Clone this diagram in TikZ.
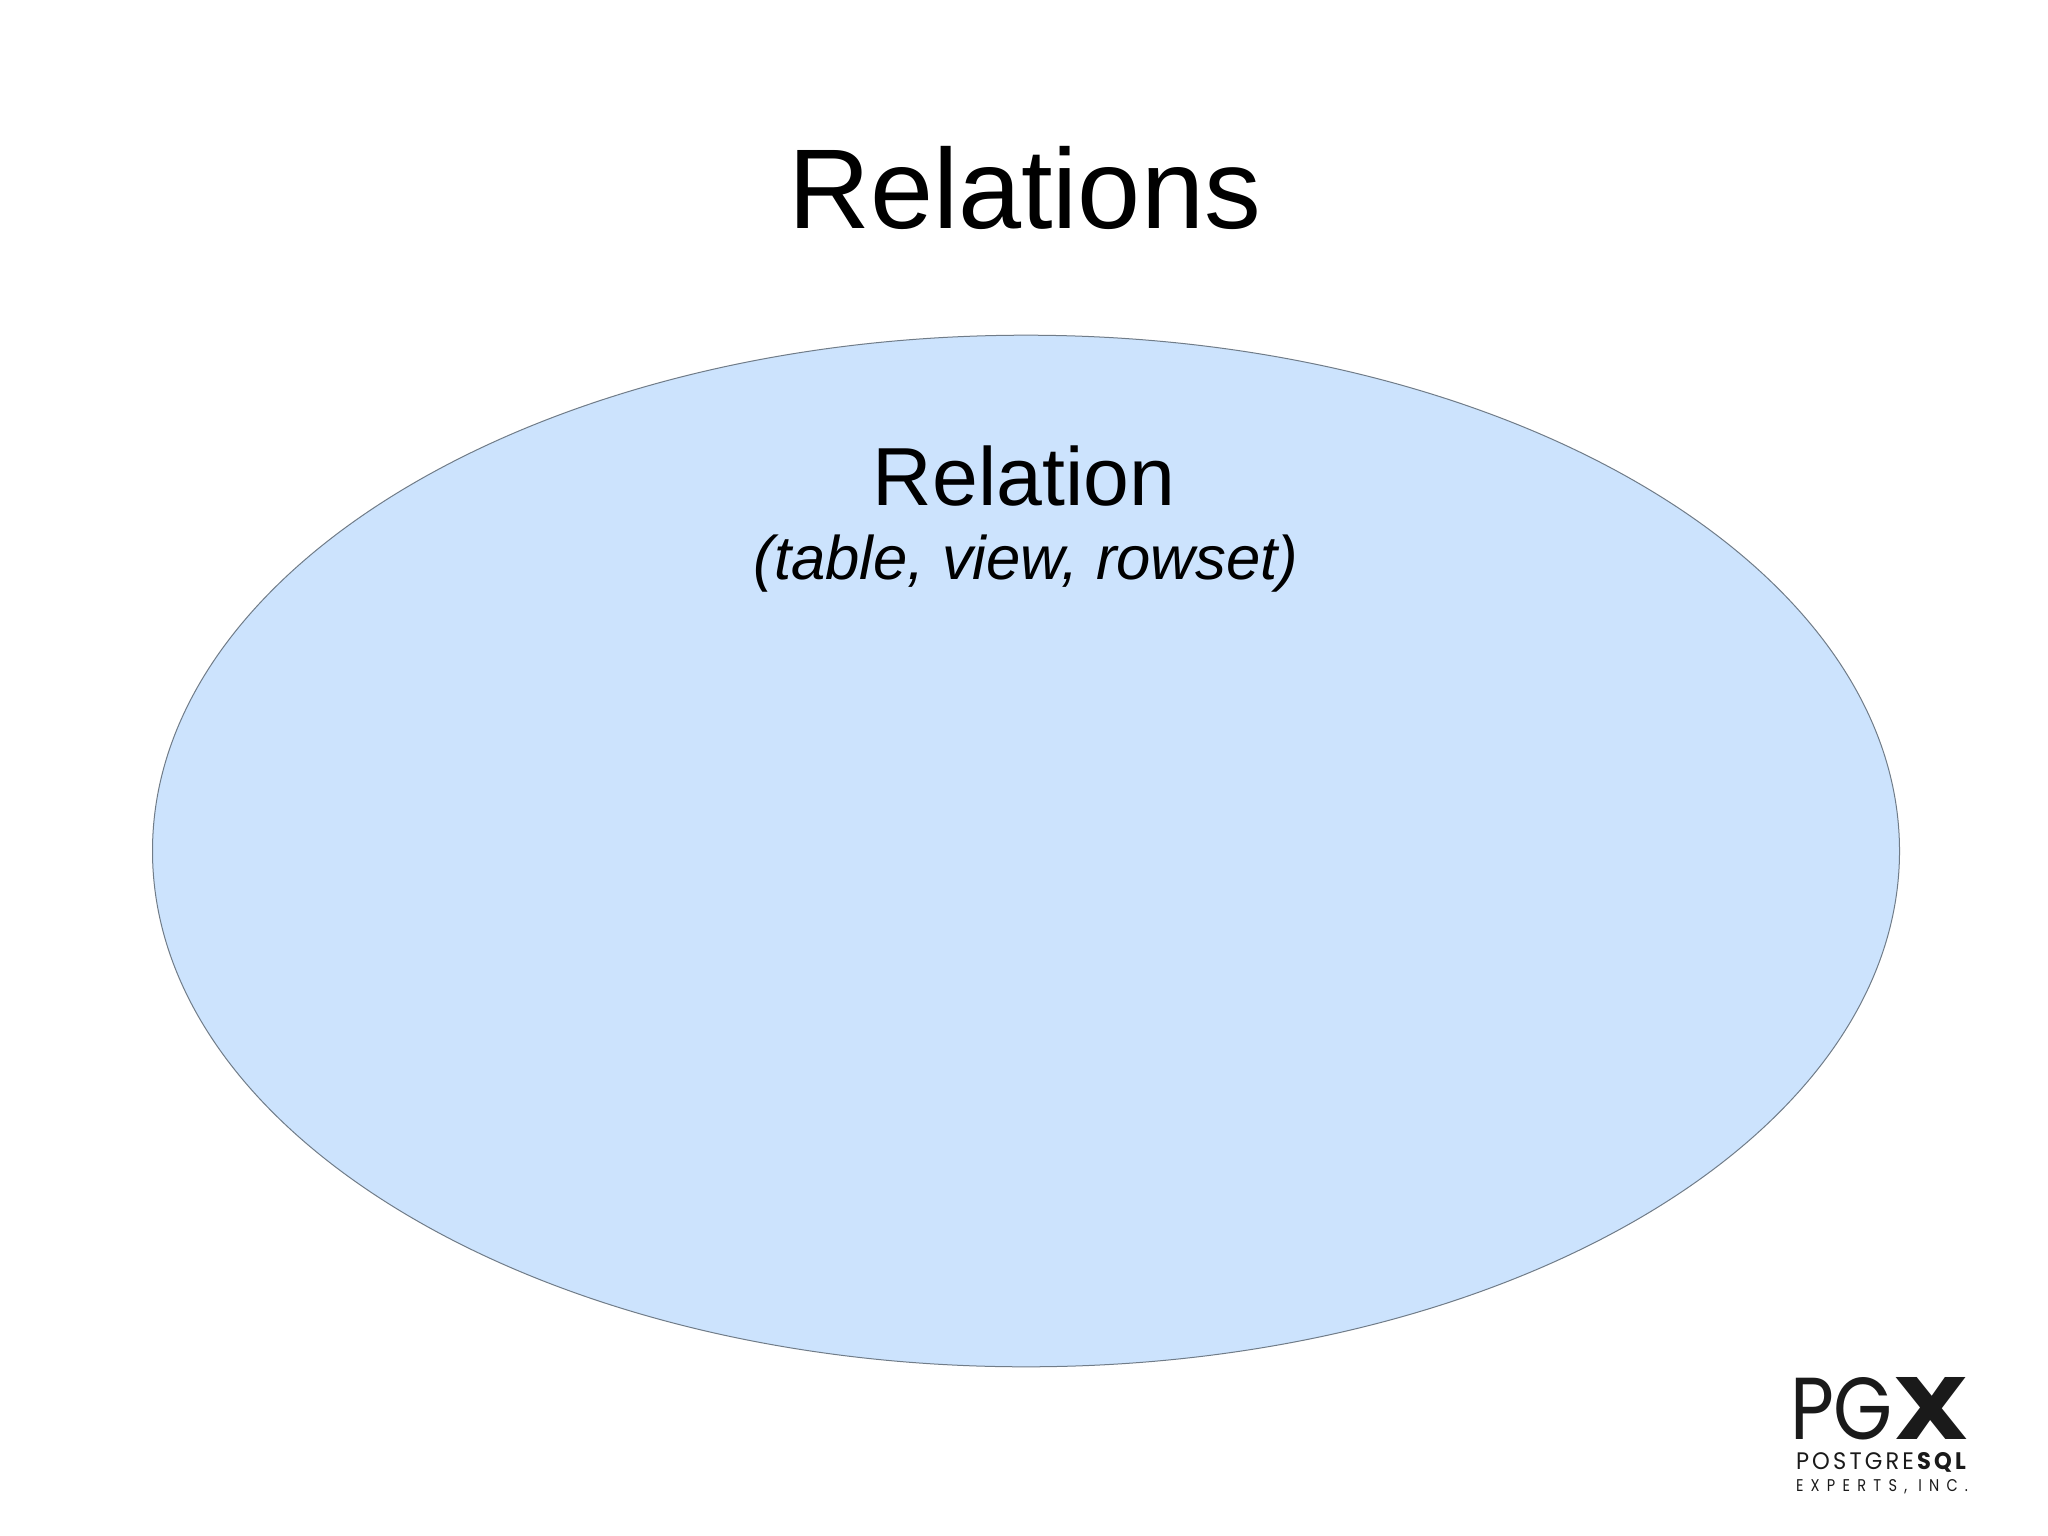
\documentclass[tikz,border=0pt]{standalone}
\usepackage{fontspec}
\setmainfont{Liberation Sans}
\newfontfamily\logofont{Poppins}
\newfontfamily\logotrack[LetterSpace=14]{Poppins}
\newfontfamily\logowide[LetterSpace=50]{Poppins}
\definecolor{relfill}{HTML}{CCE3FD}
\definecolor{reledge}{HTML}{707C88}
\definecolor{ink}{HTML}{000000}
\definecolor{logoink}{HTML}{1A1A1A}
\usetikzlibrary{shapes.geometric}
\tikzset{
  px/.style={x=0.5pt,y=-0.5pt},
  txt/.style={inner sep=0pt,outer sep=0pt,text=ink,anchor=base},
  logotxt/.style={inner sep=0pt,outer sep=0pt,text=logoink,anchor=base west},
  relshape/.style={ellipse,draw=reledge,line width=0.5pt,fill=relfill}
}
\begin{document}
\begin{tikzpicture}[px]
\useasboundingbox (0,0) rectangle (2048,1535);
\fill[white] (0,0) rectangle (2048,1535);
\node[relshape,inner sep=0pt,minimum width=873.5pt,minimum height=515.8pt] (rel) at (1026,851) {};
\node[txt,font=\fontsize{56.7pt}{60pt}\selectfont] (title) at (1024.5,229) {Relations};
\node[txt,font=\fontsize{41.2pt}{44pt}\selectfont] (name) at (1024,505) {Relation};
\node[txt,font=\fontsize{30.8pt}{34pt}\selectfont\itshape] (kinds) at (1026,579) {(table, view, rowset)};
% logo
\node[logotxt] (pg) at (1790,1439) {\resizebox{51.5pt}{31pt}{\logofont PG}};
\node[logotxt] (x) at (1893,1439) {\resizebox{38pt}{31pt}{\logofont\bfseries X}};
\node[logotxt] (pq) at (1796,1469) {\resizebox{86.5pt}{8.5pt}{\logotrack POSTGRE\textbf{SQL}}};
\node[logotxt] (inc) at (1796,1491) {\resizebox{86pt}{6pt}{\logowide EXPERTS, INC.}};
\end{tikzpicture}
\end{document}
